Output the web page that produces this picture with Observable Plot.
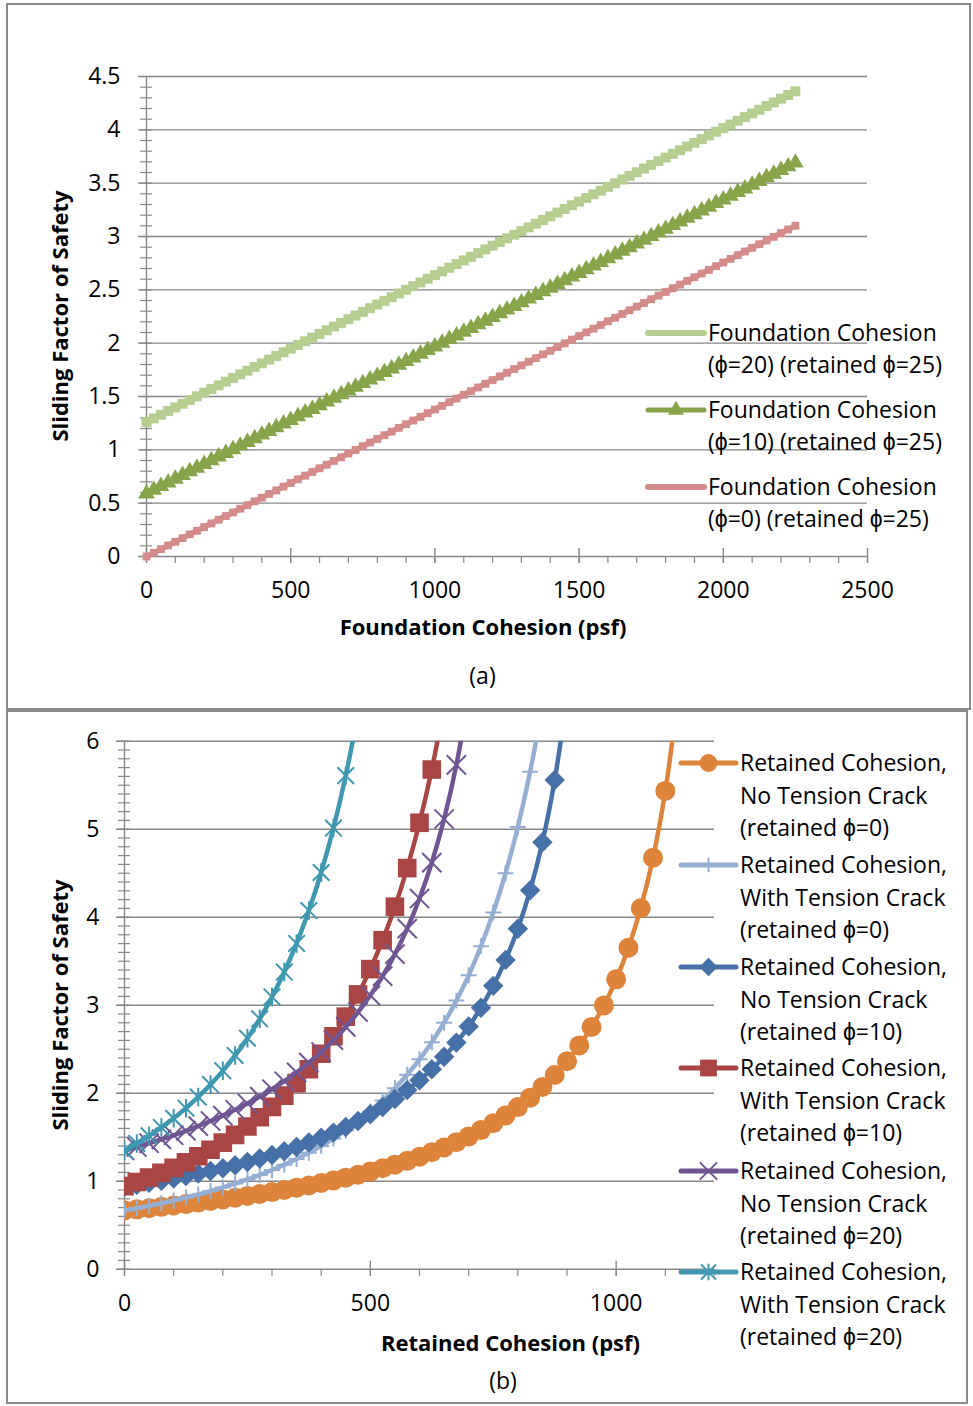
<!DOCTYPE html>
<html><head><meta charset="utf-8">
<script src="https://cdn.jsdelivr.net/npm/d3@7"></script>
<script src="https://cdn.jsdelivr.net/npm/@observablehq/plot@0.6"></script>
<style>
body{margin:0;background:#fff;font-family:"Open Sans",sans-serif;color:#000}
#wrap{position:relative;width:973px;height:1406px;overflow:hidden;background:#fff}
.box{position:absolute;border:2px solid #8a8a8a;box-sizing:border-box}
.t{position:absolute;white-space:nowrap;font-size:23px;line-height:32px}
.c{position:absolute;white-space:nowrap;font-size:23px;line-height:normal;transform:translate(-50%,-50%)}
.bold{font-weight:700;font-size:22px}
.rot{transform:translate(-50%,-50%) rotate(-90deg)}
.pl{position:absolute;left:0}
</style></head>
<body><div id="wrap">
<div class="box" style="left:6px;top:3px;width:965px;height:707px"></div>
<div class="box" style="left:6px;top:710px;width:962px;height:694px"></div>
<div id="plotA" class="pl" style="top:0"></div>
<div id="plotB" class="pl" style="top:700px"></div>
</div>
<script>
// ---------- Panel (a) data ----------
const foundationC = [0,25,50,75,100,125,150,175,200,225,250,275,300,325,350,375,400,425,450,475,500,525,550,575,600,625,650,675,700,725,750,775,800,825,850,875,900,925,950,975,1000,1025,1050,1075,1100,1125,1150,1175,1200,1225,1250,1275,1300,1325,1350,1375,1400,1425,1450,1475,1500,1525,1550,1575,1600,1625,1650,1675,1700,1725,1750,1775,1800,1825,1850,1875,1900,1925,1950,1975,2000,2025,2050,2075,2100,2125,2150,2175,2200,2225,2250];
const fsFoundPhi20 = [1.260,1.294,1.329,1.363,1.398,1.432,1.467,1.501,1.536,1.570,
1.605,1.639,1.673,1.708,1.742,1.777,1.811,1.846,1.880,1.915,
1.949,1.983,2.018,2.052,2.087,2.121,2.156,2.190,2.225,2.259,
2.294,2.328,2.362,2.397,2.431,2.466,2.500,2.535,2.569,2.604,
2.638,2.672,2.707,2.741,2.776,2.810,2.845,2.879,2.914,2.948,
2.983,3.017,3.051,3.086,3.120,3.155,3.189,3.224,3.258,3.293,
3.327,3.361,3.396,3.430,3.465,3.499,3.534,3.568,3.603,3.637,
3.672,3.706,3.740,3.775,3.809,3.844,3.878,3.913,3.947,3.982,
4.016,4.050,4.085,4.119,4.154,4.188,4.223,4.257,4.292,4.326,4.361];
const fsFoundPhi10 = [0.590,0.624,0.659,0.693,0.728,0.762,0.797,0.831,0.866,0.900,
0.935,0.969,1.003,1.038,1.072,1.107,1.141,1.176,1.210,1.245,
1.279,1.313,1.348,1.382,1.417,1.451,1.486,1.520,1.555,1.589,
1.624,1.658,1.692,1.727,1.761,1.796,1.830,1.865,1.899,1.934,
1.968,2.002,2.037,2.071,2.106,2.140,2.175,2.209,2.244,2.278,
2.313,2.347,2.381,2.416,2.450,2.485,2.519,2.554,2.588,2.623,
2.657,2.691,2.726,2.760,2.795,2.829,2.864,2.898,2.933,2.967,
3.002,3.036,3.070,3.105,3.139,3.174,3.208,3.243,3.277,3.312,
3.346,3.380,3.415,3.449,3.484,3.518,3.553,3.587,3.622,3.656,3.691];
const fsFoundPhi0 = [0,0.034,0.069,0.103,0.138,0.172,0.207,0.241,0.276,0.310,
0.345,0.379,0.413,0.448,0.482,0.517,0.551,0.586,0.620,0.655,
0.689,0.723,0.758,0.792,0.827,0.861,0.896,0.930,0.965,0.999,
1.034,1.068,1.102,1.137,1.171,1.206,1.240,1.275,1.309,1.344,
1.378,1.412,1.447,1.481,1.516,1.550,1.585,1.619,1.654,1.688,
1.723,1.757,1.791,1.826,1.860,1.895,1.929,1.964,1.998,2.033,
2.067,2.101,2.136,2.170,2.205,2.239,2.274,2.308,2.343,2.377,
2.412,2.446,2.480,2.515,2.549,2.584,2.618,2.653,2.687,2.722,
2.756,2.790,2.825,2.859,2.894,2.928,2.963,2.997,3.032,3.066,3.101];
const xTicksA = [0,500,1000,1500,2000,2500];
const yTicksA = [0,0.5,1,1.5,2,2.5,3,3.5,4,4.5];

// ---------- Panel (b) data ----------
const retainedC = [0,25,50,75,100,125,150,175,200,225,250,275,300,325,350,375,400,425,450,475,500,525,550,575,600,625,650,675,700,725,750,775,800,825,850,875,900,925,950,975,1000,1025,1050,1075,1100,1125];
const noCrackPhi0 = [0.667,0.680,0.694,0.709,0.724,0.740,0.757,0.775,0.793,0.812,
0.833,0.854,0.876,0.900,0.925,0.951,0.979,1.009,1.040,1.073,
1.109,1.147,1.188,1.231,1.278,1.329,1.384,1.444,1.509,1.581,
1.659,1.746,1.842,1.949,2.070,2.207,2.363,2.543,2.752,2.998,
3.294,3.654,4.102,4.675,5.435,6.489];
const crackPhi0 = [0.667,0.693,0.720,0.749,0.781,0.814,0.849,0.888,0.929,0.973,
1.020,1.071,1.127,1.187,1.252,1.323,1.400,1.485,1.577,1.680,
1.792,1.917,2.056,2.211,2.385,2.580,2.801,3.052,3.339,3.670,
4.053,4.500,5.026,5.652,6.403];
const noCrackPhi10 = [0.936,0.958,0.981,1.005,1.031,1.058,1.086,1.116,1.148,1.182,
1.218,1.257,1.298,1.341,1.388,1.439,1.493,1.552,1.615,1.684,
1.760,1.843,1.934,2.035,2.147,2.273,2.414,2.575,2.759,2.971,
3.220,3.515,3.869,4.305,4.852,5.560,6.512];
const crackPhi10 = [0.944,0.991,1.041,1.094,1.152,1.215,1.283,1.357,1.438,1.526,
1.622,1.727,1.844,1.972,2.114,2.272,2.449,2.647,2.870,3.123,
3.410,3.739,4.119,4.558,5.073,5.679,6.401];
const noCrackPhi20 = [1.350,1.389,1.431,1.475,1.522,1.573,1.626,1.684,1.745,1.812,
1.883,1.961,2.045,2.136,2.236,2.347,2.468,2.603,2.753,2.922,
3.112,3.330,3.580,3.870,4.212,4.620,5.116,5.731,6.514];
const crackPhi20 = [1.349,1.429,1.516,1.611,1.715,1.830,1.957,2.098,2.254,2.429,
2.625,2.845,3.094,3.377,3.702,4.075,4.508,5.013,5.609,6.317];
const xTicksB = [0,500,1000];
const yTicksB = [0,1,2,3,4,5,6];

// minor tick positions
const xMinorA = d3.range(0, 2501, 100);
const yMinorA = d3.range(0, 46).map(i => i / 10);
const xMinorB = d3.range(0, 1201, 100);
const yMinorB = d3.range(0, 61).map(i => i / 10);

// ---------- styles ----------
const gridColor = "#878787";
const colA = {phi20: "#b5cd8e", phi10: "#87a44b", phi0: "#d48b89"};
const colB = {nc0: "#de833a", c0: "#95afd4", nc10: "#4571a8", c10: "#a94543", nc20: "#6f5593", c20: "#3f98b1"};

// Excel-like "star" marker: an x with a vertical bar
const starSymbol = {
  draw(ctx, size) {
    const r = Math.sqrt(size / Math.PI) * 1.05;
    const d = r * 0.9;
    ctx.moveTo(-d, -d); ctx.lineTo(d, d);
    ctx.moveTo(-d, d); ctx.lineTo(d, -d);
    ctx.moveTo(0, -r); ctx.lineTo(0, r);
  }
};

const rows = (xs, ys) => ys.map((v, i) => ({c: xs[i], fs: v}));

function axisMarks(xMajor, xMinor, yMajor, yMinor, yLabelDx) {
  return [
    Plot.ruleY(yMajor, {stroke: gridColor, strokeWidth: 1.4, insetLeft: -8}),
    Plot.ruleX([0], {stroke: gridColor, strokeWidth: 1.4}),
    Plot.ruleY(yMinor, {x1: 0, x2: 0, insetLeft: -6, insetRight: -6, stroke: gridColor, strokeWidth: 1.2}),
    Plot.ruleX(xMinor, {y1: 0, y2: 0, insetBottom: -7, stroke: gridColor, strokeWidth: 1.2}),
    Plot.ruleX(xMajor, {y1: 0, y2: 0, insetTop: -8, insetBottom: -7, stroke: gridColor, strokeWidth: 1.4}),
    Plot.text(yMajor, {y: d => d, frameAnchor: "left", lineAnchor: "middle", dx: yLabelDx, textAnchor: "end", text: d => String(d), fontSize: 23}),
    Plot.text(xMajor, {x: d => d, frameAnchor: "bottom", lineAnchor: "middle", dy: 34, text: d => String(d), fontSize: 23})
  ];
}
const plotStyle = {fontFamily: '"Open Sans", sans-serif', fontSize: "23px", background: "transparent", color: "#000", overflow: "visible"};

// ---------- Panel (a) ----------
const pA = Plot.plot({
  width: 973, height: 600,
  marginTop: 76, marginBottom: 44, marginLeft: 146, marginRight: 106,
  x: {domain: [0, 2500], axis: null},
  y: {domain: [0, 4.5], axis: null},
  style: plotStyle,
  marks: [
    ...axisMarks(xTicksA, xMinorA, yTicksA, yMinorA, -26),
    Plot.line(rows(foundationC, fsFoundPhi0), {x: "c", y: "fs", stroke: colA.phi0, strokeWidth: 5.5}),
    Plot.dot(rows(foundationC, fsFoundPhi0), {x: "c", y: "fs", symbol: "square", r: 4.4, fill: colA.phi0}),
    Plot.line(rows(foundationC, fsFoundPhi10), {x: "c", y: "fs", stroke: colA.phi10, strokeWidth: 4.5}),
    Plot.dot(rows(foundationC, fsFoundPhi10), {x: "c", y: "fs", symbol: "triangle", r: 6.2, fill: colA.phi10}),
    Plot.line(rows(foundationC, fsFoundPhi20), {x: "c", y: "fs", stroke: colA.phi20, strokeWidth: 6.5}),
    Plot.dot(rows(foundationC, fsFoundPhi20), {x: "c", y: "fs", symbol: "square", r: 5.6, fill: colA.phi20})
  ]
});
document.getElementById("plotA").appendChild(pA);

// ---------- Panel (b) ----------
const seriesB = [
  {vals: noCrackPhi0, color: colB.nc0, symbol: "circle", r: 10, filled: true},
  {vals: crackPhi0, color: colB.c0, symbol: "plus", r: 5.2, filled: false},
  {vals: noCrackPhi10, color: colB.nc10, symbol: "diamond2", r: 9.2, filled: true},
  {vals: crackPhi10, color: colB.c10, symbol: "square", r: 10.5, filled: true},
  {vals: noCrackPhi20, color: colB.nc20, symbol: "times", r: 8.8, filled: false},
  {vals: crackPhi20, color: colB.c20, symbol: starSymbol, r: 8.8, filled: false}
];
const marksB = [...axisMarks(xTicksB, xMinorB, yTicksB, yMinorB, -25)];
for (const s of seriesB) {
  const data = rows(retainedC, s.vals);
  marksB.push(Plot.line(data, {x: "c", y: "fs", stroke: s.color, strokeWidth: 4.5, curve: "catmull-rom", clip: true}));
  marksB.push(Plot.dot(data, s.filled
    ? {x: "c", y: "fs", symbol: s.symbol, r: s.r, fill: s.color, stroke: "none", clip: true}
    : {x: "c", y: "fs", symbol: s.symbol, r: s.r, fill: "none", stroke: s.color, strokeWidth: 2, clip: true}));
}
const pB = Plot.plot({
  width: 973, height: 640,
  marginTop: 40.7, marginBottom: 71.3, marginLeft: 124, marginRight: 259,
  x: {domain: [0, 1200], axis: null},
  y: {domain: [0, 6], axis: null},
  style: plotStyle,
  marks: marksB
});
document.getElementById("plotB").appendChild(pB);

// ---------- Titles & captions ----------
const wrap = document.getElementById("wrap");
function label(txt, x, y, cls) {
  const d = document.createElement("div");
  d.className = "c " + (cls || "");
  d.style.left = x + "px"; d.style.top = y + "px";
  d.textContent = txt;
  wrap.appendChild(d);
}
label("Sliding Factor of Safety", 59, 316, "bold rot");
label("Foundation Cohesion (psf)", 483, 626, "bold");
label("(a)", 482.5, 675);
label("Sliding Factor of Safety", 59, 1005, "bold rot");
label("Retained Cohesion (psf)", 510.5, 1341.5, "bold");
label("(b)", 503, 1380);

// ---------- Legends ----------
const legendA = [
  {lines: ["Foundation Cohesion", "(\u03D5=20) (retained \u03D5=25)"], color: colA.phi20, w: 6, symbol: null, y: 333},
  {lines: ["Foundation Cohesion", "(\u03D5=10) (retained \u03D5=25)"], color: colA.phi10, w: 5, symbol: "triangle", r: 6, filled: true, y: 410},
  {lines: ["Foundation Cohesion", "(\u03D5=0) (retained \u03D5=25)"], color: colA.phi0, w: 6, symbol: null, y: 487}
];
const legendB = [
  {lines: ["Retained Cohesion,", "No Tension Crack", "(retained \u03D5=0)"], y: 763},
  {lines: ["Retained Cohesion,", "With Tension Crack", "(retained \u03D5=0)"], y: 865},
  {lines: ["Retained Cohesion,", "No Tension Crack", "(retained \u03D5=10)"], y: 967},
  {lines: ["Retained Cohesion,", "With Tension Crack", "(retained \u03D5=10)"], y: 1068},
  {lines: ["Retained Cohesion,", "No Tension Crack", "(retained \u03D5=20)"], y: 1171},
  {lines: ["Retained Cohesion,", "With Tension Crack", "(retained \u03D5=20)"], y: 1272}
].map((e, i) => Object.assign(e, {color: seriesB[i].color, symbol: seriesB[i].symbol, r: seriesB[i].r * 0.9, filled: seriesB[i].filled, w: 5}));

const L = d3.select(wrap).append("svg")
  .attr("width", 973).attr("height", 1406)
  .style("position", "absolute").style("left", 0).style("top", 0).style("pointer-events", "none");
const symMap = {circle: d3.symbolCircle, triangle: d3.symbolTriangle, plus: d3.symbolPlus, diamond2: d3.symbolDiamond2,
  square: d3.symbolSquare, times: d3.symbolTimes};
function drawLegend(entries, x1, x2, tx, lh) {
  for (const e of entries) {
    L.append("line").attr("x1", x1).attr("x2", x2).attr("y1", e.y).attr("y2", e.y)
      .attr("stroke", e.color).attr("stroke-width", e.w).attr("stroke-linecap", "round");
    if (e.symbol) {
      const sym = typeof e.symbol === "string" ? symMap[e.symbol] : e.symbol;
      const p = L.append("path").attr("transform", `translate(${(x1 + x2) / 2},${e.y})`)
        .attr("d", d3.symbol(sym, Math.PI * e.r * e.r)());
      if (e.filled) p.attr("fill", e.color);
      else p.attr("fill", "none").attr("stroke", e.color).attr("stroke-width", 2);
    }
    e.lines.forEach((ln, k) => {
      const d = document.createElement("div");
      d.className = "t";
      d.style.left = tx + "px";
      d.style.top = (e.y + k * lh - 17) + "px";
      d.textContent = ln;
      wrap.appendChild(d);
    });
  }
}
drawLegend(legendA, 648, 704, 708, 32);
drawLegend(legendB, 681, 736, 740, 32.5);
</script>
</body></html>
